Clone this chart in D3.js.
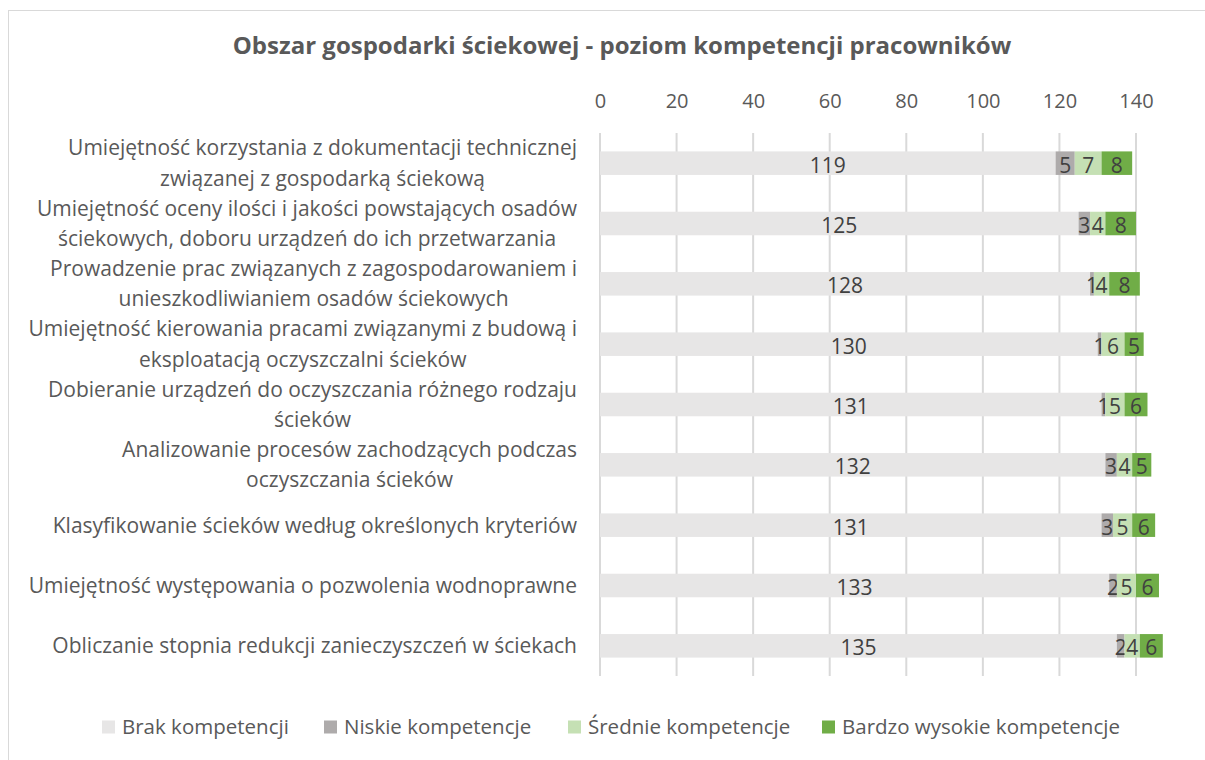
<!DOCTYPE html>
<html>
<head>
<meta charset="utf-8">
<script src="https://cdn.jsdelivr.net/npm/d3@7"></script>
<style>
  body { margin: 0; background: #fff; }
  svg text { font-family: "Open Sans", "Noto Sans", sans-serif; fill: #595959; }
</style>
</head>
<body>
<svg id="chart" width="1205" height="760"></svg>
<script>
// wrapped category labels, one array per bar (top to bottom)
var categories = [
    ["Umiejętność korzystania z dokumentacji technicznej", "związanej z gospodarką ściekową"],
    ["Umiejętność oceny ilości i jakości powstających osadów", "ściekowych, doboru urządzeń do ich przetwarzania"],
    ["Prowadzenie prac związanych z zagospodarowaniem i", "unieszkodliwianiem osadów ściekowych"],
    ["Umiejętność kierowania pracami związanymi z budową i", "eksploatacją oczyszczalni ścieków"],
    ["Dobieranie urządzeń do oczyszczania różnego rodzaju", "ścieków"],
    ["Analizowanie procesów zachodzących podczas", "oczyszczania ścieków"],
    ["Klasyfikowanie ścieków według określonych kryteriów"],
    ["Umiejętność występowania o pozwolenia wodnoprawne"],
    ["Obliczanie stopnia redukcji zanieczyszczeń w ściekach"]
];

var seriesNames = ["Brak kompetencji", "Niskie kompetencje", "Średnie kompetencje", "Bardzo wysokie kompetencje"];
var seriesColors = ["#e7e6e6", "#aeabab", "#c5e0b4", "#70ad47"];

var brak    = [119, 125, 128, 130, 131, 132, 131, 133, 135];
var niskie  = [5, 3, 1, 1, 1, 3, 3, 2, 2];
var srednie = [7, 4, 4, 6, 5, 4, 5, 5, 4];
var bardzo  = [8, 8, 8, 5, 6, 5, 6, 6, 6];

var xTicks = [0, 20, 40, 60, 80, 100, 120, 140];

var title = "Obszar gospodarki ściekowej - poziom kompetencji pracowników";

var svg = d3.select("#chart");

// chart frame (light border, open at right/bottom like the source crop)
svg.append("rect")
    .attr("x", 8.5).attr("y", 10.5)
    .attr("width", 1205).attr("height", 760)
    .attr("fill", "none").attr("stroke", "#d9d9d9").attr("stroke-width", 1);

var margin = {left: 600, right: 1136, top: 133, bottom: 676};

var x = d3.scaleLinear().domain([0, 140]).range([margin.left, margin.right]);
var y = d3.scaleBand().domain(d3.range(categories.length))
    .range([margin.top, margin.bottom]).paddingInner(0.61).paddingOuter(0.305);

// title
svg.append("text")
    .attr("x", 622).attr("y", 46)
    .attr("text-anchor", "middle").attr("dy", "0.35em")
    .style("font-size", "24px").style("font-weight", "bold")
    .text(title);

// gridlines
svg.append("g").selectAll("line").data(xTicks).enter().append("line")
    .attr("x1", function(d) { return x(d); }).attr("x2", function(d) { return x(d); })
    .attr("y1", margin.top).attr("y2", margin.bottom)
    .attr("stroke", "#d9d9d9").attr("stroke-width", 2);

// top axis
var axis = svg.append("g")
    .attr("transform", "translate(0," + 101 + ")")
    .call(d3.axisTop(x).tickValues(xTicks).tickSize(0).tickPadding(0));
axis.select(".domain").remove();
axis.selectAll("text")
    .attr("dy", "0.35em")
    .style("font-size", "20px").style("fill", "#595959");

// stacked data
var rows = brak.map(function(d, i) {
    return {i: i, brak: brak[i], niskie: niskie[i], srednie: srednie[i], bardzo: bardzo[i]};
});
var keys = ["brak", "niskie", "srednie", "bardzo"];
var stack = d3.stack().keys(keys)(rows);

var layers = svg.append("g").selectAll("g").data(stack).enter().append("g")
    .attr("fill", function(d, k) { return seriesColors[k]; });

layers.selectAll("rect").data(function(d) { return d; }).enter().append("rect")
    .attr("x", function(d) { return x(d[0]); })
    .attr("width", function(d) { return x(d[1]) - x(d[0]); })
    .attr("y", function(d) { return y(d.data.i); })
    .attr("height", y.bandwidth());

// data labels
layers.selectAll("text").data(function(d) { return d.map(function(p) { return {p: p, key: d.key}; }); })
    .enter().append("text")
    .attr("x", function(d) { return (x(d.p[0]) + x(d.p[1])) / 2; })
    .attr("y", function(d) { return y(d.p.data.i) + y.bandwidth() / 2 + 2; })
    .attr("text-anchor", "middle").attr("dy", "0.35em")
    .style("font-size", "21px").style("fill", "#404040")
    .text(function(d) { return d.p.data[d.key]; });

// category labels, right aligned block with centred lines
var labelRight = 577, lineGap = 30.5;
var catG = svg.append("g");
categories.forEach(function(lines, i) {
    var g = catG.append("g");
    var cy = y(i) + y.bandwidth() / 2;
    var texts = lines.map(function(t, j) {
        return g.append("text")
            .attr("y", cy + (j - (lines.length - 1) / 2) * lineGap)
            .attr("dy", "0.35em").attr("text-anchor", "middle")
            .style("font-size", "21px")
            .text(t);
    });
    var maxW = d3.max(texts, function(t) { return t.node().getComputedTextLength(); });
    texts.forEach(function(t) { t.attr("x", labelRight - maxW / 2); });
});

// legend
var legendX = [102, 324, 568, 822];
var legend = svg.append("g").selectAll("g").data(seriesNames).enter().append("g")
    .attr("transform", function(d, i) { return "translate(" + legendX[i] + ",727)"; });
legend.append("rect")
    .attr("x", 0).attr("y", -6.5).attr("width", 13).attr("height", 13)
    .attr("fill", function(d, i) { return seriesColors[i]; });
legend.append("text")
    .attr("x", 20).attr("dy", "0.35em")
    .style("font-size", "20.5px")
    .text(function(d) { return d; });
</script>
</body>
</html>
